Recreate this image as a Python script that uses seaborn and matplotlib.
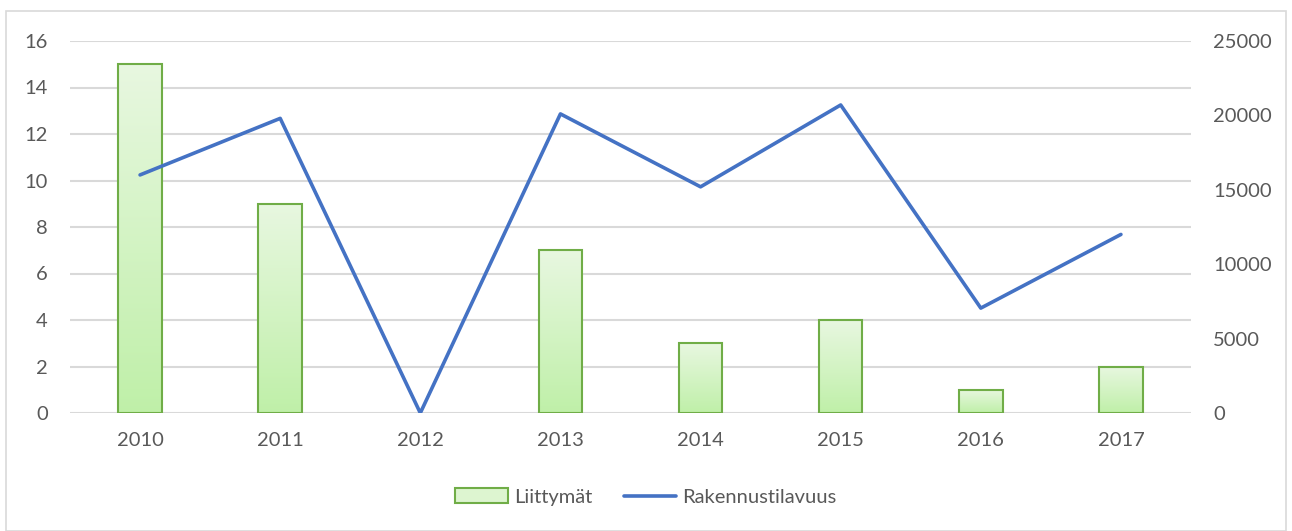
import numpy as np
import pandas as pd
import seaborn as sns
import matplotlib.pyplot as plt
from matplotlib.patches import Patch, Rectangle
from matplotlib.lines import Line2D

# Data
years = ['2010', '2011', '2012', '2013', '2014', '2015', '2016', '2017']
liittymat = [15, 9, 0, 7, 3, 4, 1, 2]
rakennustilavuus = [16000, 19800, 0, 20100, 15200, 20700, 7050, 12000]

df = pd.DataFrame({'vuosi': years, 'Liittymät': liittymat,
                   'Rakennustilavuus': rakennustilavuus})
df['pos'] = np.arange(len(df))

sns.set_theme(style='white')
plt.rcParams['font.family'] = ['Lato', 'DejaVu Sans']
text_col = '#595959'
grid_col = '#D9D9D9'
green_edge = '#70AD47'
blue = '#4472C4'
fs = 14.5

fig = plt.figure(figsize=(12.92, 5.31), dpi=100)
ax = fig.add_axes([70 / 1292, 1 - 413 / 531, (1191 - 70) / 1292, (413 - 41) / 531])

sns.barplot(data=df, x='vuosi', y='Liittymät', ax=ax, width=0.31,
            color='#DDF5D0', edgecolor=green_edge, linewidth=1.5, saturation=1)

# gradient fill for bars
grad = np.linspace(0, 1, 256).reshape(-1, 1)
top = np.array([0.91, 0.97, 0.88])
bot = np.array([0.75, 0.94, 0.66])
img = top[None, None, :] * (1 - grad[:, :, None]) + bot[None, None, :] * grad[:, :, None]
for p in ax.patches:
    x0, y0 = p.get_x(), p.get_y()
    w, h = p.get_width(), p.get_height()
    if h <= 0:
        p.set_visible(False)
        continue
    ax.imshow(img, extent=[x0, x0 + w, y0, y0 + h], aspect='auto', zorder=2,
              interpolation='bilinear')
    p.set_facecolor('none')
    p.set_zorder(3)

ax.set_xlim(-0.5, len(years) - 0.5)
ax.set_ylim(0, 16)
ax.set_yticks(range(0, 17, 2))
ax.grid(axis='y', color=grid_col, linewidth=1.5)
ax.set_axisbelow(True)
ax.set_xlabel('')
ax.set_ylabel('')
for s in ax.spines.values():
    s.set_visible(False)
ax.tick_params(axis='y', length=0, pad=16, labelsize=fs, labelcolor=text_col)
ax.tick_params(axis='x', length=0, pad=14, labelsize=fs, labelcolor=text_col)

ax2 = ax.twinx()
sns.lineplot(data=df, x='pos', y='Rakennustilavuus', ax=ax2, color=blue,
             linewidth=2.6, zorder=5)
ax2.set_ylim(0, 25000)
ax2.set_yticks(range(0, 25001, 5000))
ax2.set_xlim(-0.5, len(years) - 0.5)
ax2.set_ylabel('')
ax2.set_xlabel('')
for s in ax2.spines.values():
    s.set_visible(False)
ax2.tick_params(axis='y', length=0, pad=16, labelsize=fs, labelcolor=text_col)

handles = [Patch(facecolor='#DDF5D0', edgecolor=green_edge, linewidth=1.5),
           Line2D([], [], color=blue, linewidth=2.6)]
fig.legend(handles, ['Liittymät', 'Rakennustilavuus'], loc='center',
           bbox_to_anchor=(0.5, 1 - 497 / 531), ncol=2, frameon=False,
           fontsize=fs, labelcolor=text_col, handlelength=2.6, handleheight=0.7,
           columnspacing=1.6, handletextpad=0.3)

fig.patches.append(Rectangle((6 / 1292, 0), (1286 - 6) / 1292, 1 - 11 / 531,
                             transform=fig.transFigure, fill=False,
                             edgecolor=grid_col, linewidth=1.2))

fig.savefig('out.png', dpi=100)
